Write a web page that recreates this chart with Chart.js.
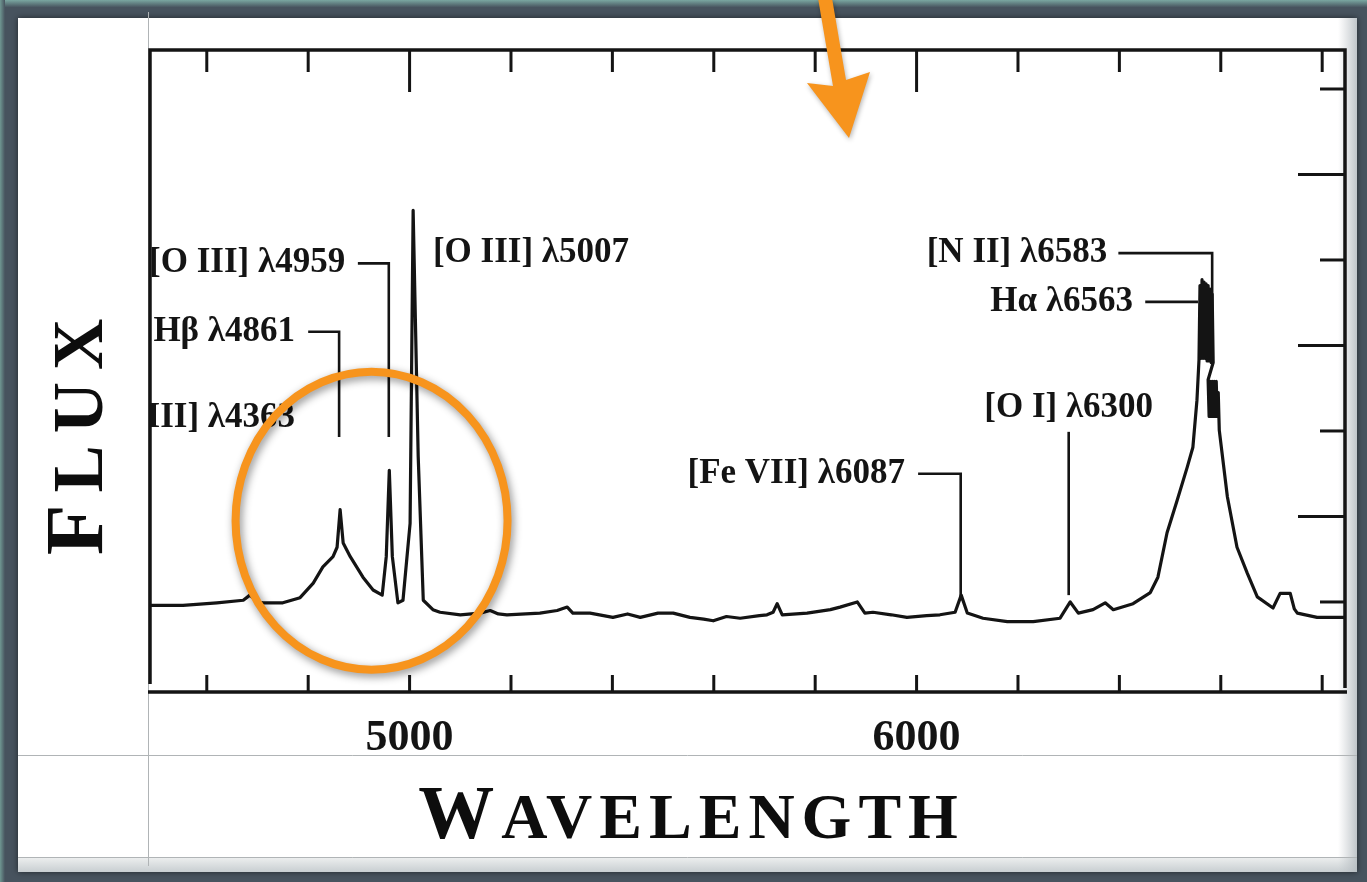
<!DOCTYPE html>
<html>
<head>
<meta charset="utf-8">
<script src="https://cdn.jsdelivr.net/npm/chart.js@4.4.1/dist/chart.umd.min.js"></script>
<style>
html,body{margin:0;padding:0;background:#47535e;overflow:hidden}
canvas{display:block}
</style>
</head>
<body>
<canvas id="c" width="1367" height="882"></canvas>
<script>
// ---------- data ----------
const WAVELENGTH = [
  4490,4553,4620,4672,4685,4700,4711,4750,4784,4810,4829,4849,4857,4863,4869,4883,4908,4928,4946,4954,
  4960,4966,4977,4987,5001,5007,5017,5027,5046,5060,5100,5139,5159,5175,5192,5257,5291,5311,5322,5356,
  5401,5430,5455,5490,5520,5553,5580,5599,5625,5652,5690,5705,5717,5725,5735,5784,5830,5849,5883,5898,
  5914,5950,5981,6020,6046,6076,6088,6100,6131,6179,6230,6283,6303,6319,6348,6372,6388,6427,6461,6476,
  6494,6514,6534,6545,6553,6557,6559,6561,6563,6565,6567,6569,6571,6573,6575,6577,6579,6581,6583,6585,
  6575,6577,6579,6581,6583,6585,6587,6589,6591,6593,6595,6597,6613,6632,6652,6672,6703,6717,6737,6745,
  6751,6790,6845
];
const FLUX = [
  0.96,0.96,0.99,1.02,1.08,1.00,0.99,0.99,1.05,1.22,1.41,1.53,1.64,2.08,1.69,1.53,1.29,1.14,1.08,1.53,
  2.54,1.53,0.99,1.02,1.92,5.58,2.70,1.02,0.91,0.88,0.85,0.87,0.90,0.86,0.85,0.87,0.90,0.94,0.87,0.87,
  0.82,0.86,0.82,0.87,0.87,0.82,0.80,0.78,0.83,0.81,0.84,0.85,0.88,0.98,0.85,0.87,0.91,0.94,1.00,0.87,
  0.88,0.85,0.82,0.84,0.85,0.88,1.08,0.87,0.81,0.77,0.77,0.81,1.00,0.87,0.91,0.99,0.91,0.98,1.11,1.29,
  1.81,2.19,2.58,2.81,3.36,3.83,4.70,3.85,4.77,3.85,4.74,3.85,4.72,3.82,4.70,3.82,4.66,3.80,4.60,3.80,
  3.60,3.17,3.58,3.17,3.58,3.17,3.58,3.17,3.58,3.17,3.45,3.01,2.23,1.64,1.34,1.06,0.93,1.10,1.10,0.92,
  0.87,0.82,0.82
];
const X_LABEL_TICKS = [5000, 6000];
const X_TICKS = [4600, 4800, 5000, 5200, 5400, 5600, 5800, 6000, 6200, 6400, 6600, 6800];
const X_MAJOR_TICKS = [5000, 6000];
const Y_TICKS = [1, 2, 3, 4, 5, 6, 7];
const Y_MAJOR_TICKS = [2, 4, 6];
const LINE_NAMES = ['[O III] λ4363', 'Hβ λ4861', '[O III] λ4959', '[O III] λ5007',
                    '[Fe VII] λ6087', '[O I] λ6300', 'Hα λ6563', '[N II] λ6583'];
const LINE_WAVES = [4363, 4861, 4959, 5007, 6087, 6300, 6563, 6583];
const X_TITLE = 'Wavelength';
const Y_TITLE = 'Flux';

// ---------- label layout (positions in axis units, not data) ----------
const LABEL_LAYOUT = [
  {tx: 4774, ty: 3.15, align: 'right'},
  {tx: 4774, ty: 4.16, align: 'right', from: 4800, down: 2.93},
  {tx: 4873, ty: 4.96, align: 'right', from: 4898, down: 2.93},
  {tx: 5046, ty: 5.08, align: 'left'},
  {tx: 5977, ty: 2.50, align: 'right', from: 6003, down: 1.02},
  {tx: null, ty: 3.27, align: 'center', vTop: 2.99, vBottom: 1.08},
  {tx: 6427, ty: 4.51, align: 'right', from: 6451, to: 6555},
  {tx: 6376, ty: 5.08, align: 'right', from: 6398, down: 3.80}
];
const HIGHLIGHT = {x: 4925, y: 1.95, rx: 136, ry: 149};

const points = WAVELENGTH.map((w, i) => ({x: w, y: FLUX[i]}));
const INK = '#141414';
const ORANGE = '#f7941d';
const SERIF = '"Liberation Serif", "Times New Roman", serif';

function seg(ctx, x1, y1, x2, y2) { ctx.beginPath(); ctx.moveTo(x1, y1); ctx.lineTo(x2, y2); ctx.stroke(); }

const decor = {
  id: 'decor',
  beforeDraw(chart) {
    const ctx = chart.ctx, W = chart.width, H = chart.height;
    ctx.save();
    ctx.fillStyle = '#47535e'; ctx.fillRect(0, 0, W, H);
    let g = ctx.createLinearGradient(0, 0, 0, 7);
    g.addColorStop(0, '#7aa7a1'); g.addColorStop(1, '#4a5862');
    ctx.fillStyle = g; ctx.fillRect(0, 0, W, 7);
    g = ctx.createLinearGradient(0, 0, 5, 0);
    g.addColorStop(0, '#6f9792'); g.addColorStop(1, '#47535e');
    ctx.fillStyle = g; ctx.fillRect(0, 0, 5, H);
    ctx.shadowColor = 'rgba(0,0,0,0.55)'; ctx.shadowBlur = 6;
    ctx.fillStyle = '#ffffff'; ctx.fillRect(18, 18, 1339, 854);
    ctx.shadowColor = 'transparent'; ctx.shadowBlur = 0;
    g = ctx.createLinearGradient(0, 857, 0, 872);
    g.addColorStop(0, '#eef0f0'); g.addColorStop(1, '#c8ced1');
    ctx.fillStyle = g; ctx.fillRect(18, 857, 1339, 15);
    g = ctx.createLinearGradient(1338, 0, 1357, 0);
    g.addColorStop(0, 'rgba(190,196,200,0)'); g.addColorStop(1, 'rgba(180,187,192,0.85)');
    ctx.fillStyle = g; ctx.fillRect(1338, 18, 19, 854);
    ctx.strokeStyle = '#b0b4b6'; ctx.lineWidth = 1;
    seg(ctx, 18, 755.5, 1357, 755.5);
    seg(ctx, 18, 857.5, 1357, 857.5);
    seg(ctx, 148.5, 12, 148.5, 866);
    ctx.restore();
  },
  afterDatasetsDraw(chart) {
    const {ctx, chartArea: a, scales: {x, y}} = chart;
    ctx.save();
    ctx.strokeStyle = INK; ctx.lineCap = 'butt';
    // frame
    ctx.lineWidth = 3.5;
    ctx.beginPath();
    ctx.moveTo(a.left, a.bottom - 8); ctx.lineTo(a.left, a.top);
    ctx.lineTo(a.right, a.top); ctx.lineTo(a.right, a.bottom - 4);
    ctx.stroke();
    seg(ctx, a.left - 2, a.bottom, a.right + 2, a.bottom);
    // ticks pointing inward
    ctx.lineWidth = 3;
    X_TICKS.forEach(v => {
      const px = x.getPixelForValue(v);
      const len = X_MAJOR_TICKS.includes(v) ? 42 : 22;
      seg(ctx, px, a.top, px, a.top + len);
      seg(ctx, px, a.bottom, px, a.bottom - 17);
    });
    Y_TICKS.forEach(v => {
      const py = y.getPixelForValue(v);
      const len = Y_MAJOR_TICKS.includes(v) ? 47 : 25;
      seg(ctx, a.right, py, a.right - len, py);
    });
    // line identifications
    ctx.beginPath(); ctx.rect(a.left, a.top, a.right - a.left, a.bottom - a.top); ctx.clip();
    ctx.fillStyle = INK; ctx.font = 'bold 35px ' + SERIF; ctx.textBaseline = 'middle';
    ctx.lineWidth = 2.6;
    LINE_NAMES.forEach((name, i) => {
      const L = LABEL_LAYOUT[i];
      const wave = LINE_WAVES[i];
      const ty = y.getPixelForValue(L.ty);
      const tx = x.getPixelForValue(L.tx == null ? wave : L.tx);
      ctx.textAlign = L.align;
      ctx.fillText(name, tx, ty);
      const lx = x.getPixelForValue(wave);
      if (L.from != null && L.to != null) {
        seg(ctx, x.getPixelForValue(L.from), ty, x.getPixelForValue(L.to), ty);
      } else if (L.from != null) {
        ctx.beginPath();
        ctx.moveTo(x.getPixelForValue(L.from), ty);
        ctx.lineTo(lx, ty);
        ctx.lineTo(lx, y.getPixelForValue(L.down));
        ctx.stroke();
      }
      if (L.vTop != null) {
        seg(ctx, lx, y.getPixelForValue(L.vTop), lx, y.getPixelForValue(L.vBottom));
      }
    });
    ctx.restore();

    // axis titles (large initial capital + small capitals)
    ctx.save();
    ctx.fillStyle = '#0d0d0d';
    const drawCaps = (text, big, small, spacing) => {
      const first = text[0].toUpperCase(), rest = text.slice(1).toUpperCase();
      const hasLS = 'letterSpacing' in ctx;
      if (hasLS) ctx.letterSpacing = spacing + 'px';
      ctx.font = 'bold ' + big + 'px ' + SERIF;
      const w1 = ctx.measureText(first).width;
      ctx.font = 'bold ' + small + 'px ' + SERIF;
      const w2 = ctx.measureText(rest).width;
      const total = w1 + w2 - (hasLS ? spacing : 0);
      ctx.textAlign = 'left'; ctx.textBaseline = 'alphabetic';
      ctx.font = 'bold ' + big + 'px ' + SERIF;
      ctx.fillText(first, -total / 2, 0);
      ctx.font = 'bold ' + small + 'px ' + SERIF;
      ctx.fillText(rest, -total / 2 + w1, 0);
      if (hasLS) ctx.letterSpacing = '0px';
    };
    ctx.save();
    ctx.translate(688, 838);
    drawCaps(X_TITLE, 76, 64, 7);
    ctx.restore();
    ctx.save();
    ctx.translate(102, 437);
    ctx.rotate(-Math.PI / 2);
    drawCaps(Y_TITLE, 83, 71, 12);
    ctx.restore();
    ctx.restore();
  },
  afterDraw(chart) {
    const {ctx, scales: {x, y}} = chart;
    ctx.save();
    ctx.shadowColor = 'rgba(0,0,0,0.45)'; ctx.shadowBlur = 9;
    ctx.shadowOffsetX = 2; ctx.shadowOffsetY = 3;
    ctx.strokeStyle = ORANGE; ctx.lineWidth = 8;
    ctx.beginPath();
    ctx.ellipse(x.getPixelForValue(HIGHLIGHT.x), y.getPixelForValue(HIGHLIGHT.y), HIGHLIGHT.rx, HIGHLIGHT.ry, 0, 0, Math.PI * 2);
    ctx.stroke();
    // arrow pointing down into the plot
    ctx.fillStyle = ORANGE;
    ctx.shadowBlur = 5; ctx.shadowOffsetX = 1; ctx.shadowOffsetY = 2; ctx.shadowColor = 'rgba(0,0,0,0.3)';
    ctx.beginPath();
    ctx.moveTo(818, -2); ctx.lineTo(833, 86); ctx.lineTo(807, 83); ctx.lineTo(849, 138);
    ctx.lineTo(870, 72); ctx.lineTo(846, 80); ctx.lineTo(832, -2);
    ctx.closePath(); ctx.fill();
    ctx.restore();
  }
};

new Chart(document.getElementById('c'), {
  type: 'line',
  data: {
    datasets: [{
      data: points,
      borderColor: INK,
      borderWidth: 3.2,
      borderJoinStyle: 'round',
      pointRadius: 0,
      tension: 0,
      fill: false
    }]
  },
  options: {
    responsive: false,
    animation: false,
    devicePixelRatio: 1,
    layout: {padding: {left: 150, right: 22, top: 50, bottom: 0}},
    plugins: {legend: {display: false}, tooltip: {enabled: false}},
    scales: {
      x: {
        type: 'linear', position: 'bottom', min: 4488, max: 6845,
        grid: {display: false, drawTicks: false},
        border: {display: false},
        afterBuildTicks: s => { s.ticks = X_LABEL_TICKS.map(v => ({value: v})); },
        afterFit: s => { s.height = 190; },
        ticks: {
          autoSkip: false, maxRotation: 0, padding: 20, color: INK,
          font: {family: SERIF, size: 44, weight: 'bold'},
          callback: v => String(v)
        }
      },
      y: {
        type: 'linear', display: false, min: -0.053, max: 7.456
      }
    }
  },
  plugins: [decor]
});
</script>
</body>
</html>
